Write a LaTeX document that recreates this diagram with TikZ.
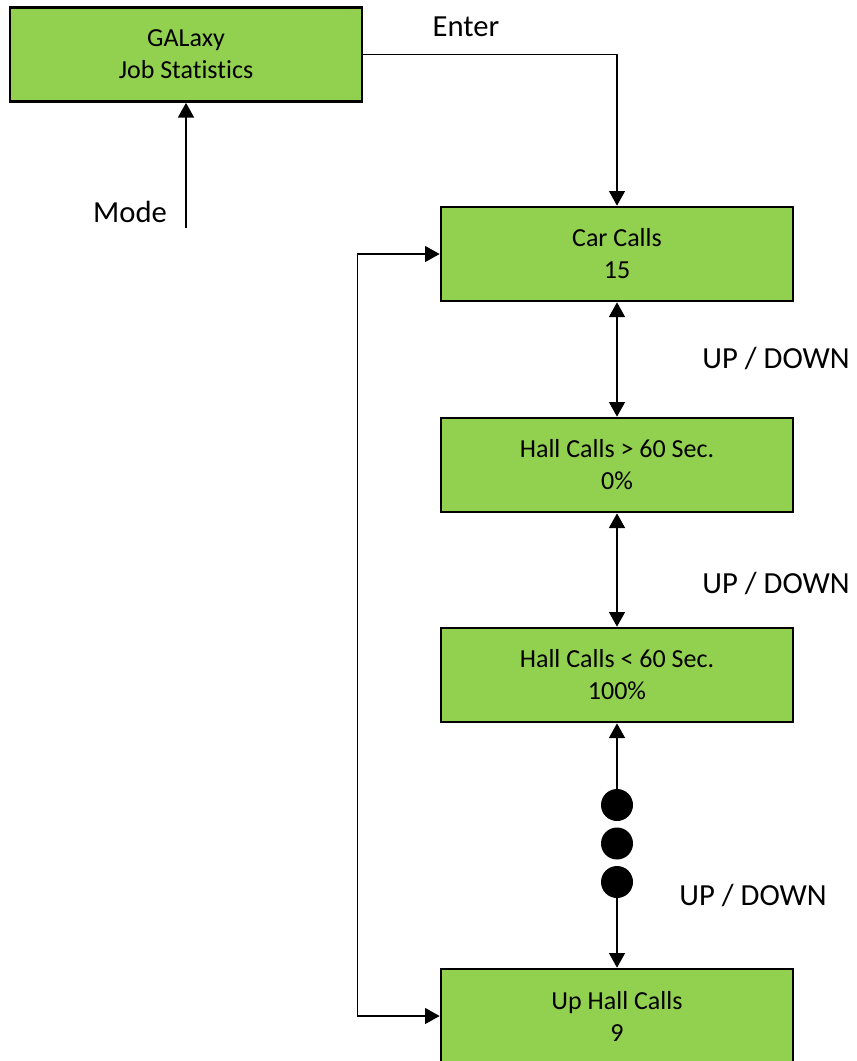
\documentclass[tikz,border=0pt]{standalone}
\usepackage{fontspec}
\setmainfont[Ligatures=NoCommon]{Carlito}
\usetikzlibrary{arrows.meta}
\definecolor{screen}{HTML}{92D050}

\begin{document}
\begin{tikzpicture}[x=0.75pt, y=-0.75pt, >={Triangle[length=11pt,width=12pt]},
  box/.style={draw, line width=2pt, fill=screen, minimum width=264pt, minimum height=70.5pt,
    align=center, font=\fontsize{19.5}{24}\selectfont},
  lbl/.style={font=\fontsize{23}{27}\selectfont},
  link/.style={line width=1pt},
  bullet/.style={circle, fill=black, minimum size=24pt, inner sep=0pt}]
  \useasboundingbox (0,0) rectangle (857,1061);
  % Screens
  \node[box] (galaxy) at (186,54.5) {GALaxy\\Job Statistics};
  \node[box] (carcalls) at (617,254) {Car Calls\\15};
  \node[box] (hallover) at (617,465) {Hall Calls > 60 Sec.\\0\%};
  \node[box] (hallunder) at (617,675) {Hall Calls < 60 Sec.\\100\%};
  \node[box] (uphall) at (617,1016) {Up Hall Calls\\9};
  % Dots
  \foreach \i/\y in {1/805,2/843.5,3/882}
    \node[bullet] (dot\i) at (617,\y) {};
  % Key labels
  \node[lbl] (enter) at (466,27) {Enter};
  \node[lbl] (mode) at (130,212) {Mode};
  \node[lbl] (updown1) at (776,358) {UP / DOWN};
  \node[lbl] (updown2) at (776,583) {UP / DOWN};
  \node[lbl] (updown3) at (753,895) {UP / DOWN};
  \coordinate (modein) at (186,228);
  % Connectors
  \draw[link,->] (galaxy.east) -| (carcalls.north);
  \draw[link,->] (modein) -- (galaxy.south);
  \draw[link,<->] (carcalls.south) -- (hallover.north);
  \draw[link,<->] (hallover.south) -- (hallunder.north);
  \draw[link,->] (dot1) -- (hallunder.south);
  \draw[link,->] (dot3) -- (uphall.north);
  \draw[link,<->] (uphall.west) -- ++(-82,0) |- (carcalls.west);
\end{tikzpicture}
\end{document}
